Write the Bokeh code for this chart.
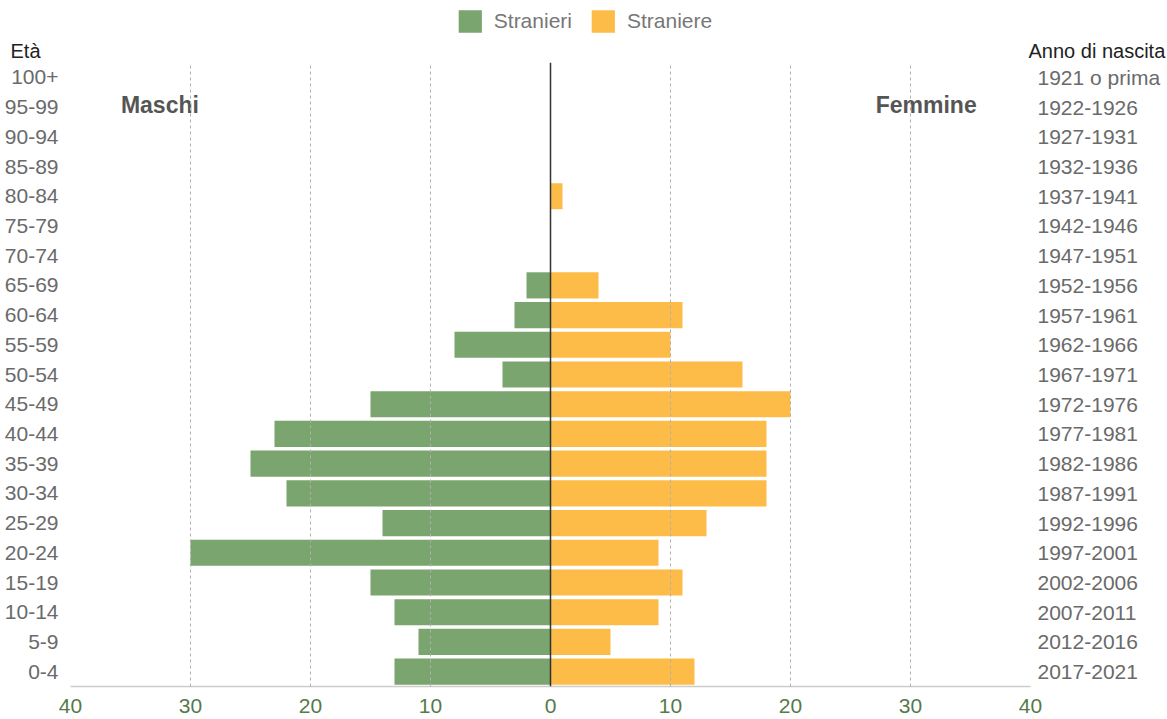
from bokeh.plotting import figure
from bokeh.models import (ColumnDataSource, FactorRange, CategoricalAxis, FixedTicker,
                          Span, Label, Legend, LegendItem, Range1d)
from bokeh.embed import file_html
from bokeh.resources import INLINE

# ---- data (bottom to top) ----
ages = ["0-4", "5-9", "10-14", "15-19", "20-24", "25-29", "30-34", "35-39", "40-44",
        "45-49", "50-54", "55-59", "60-64", "65-69", "70-74", "75-79", "80-84",
        "85-89", "90-94", "95-99", "100+"]
years = ["2017-2021", "2012-2016", "2007-2011", "2002-2006", "1997-2001", "1992-1996",
         "1987-1991", "1982-1986", "1977-1981", "1972-1976", "1967-1971", "1962-1966",
         "1957-1961", "1952-1956", "1947-1951", "1942-1946", "1937-1941", "1932-1936",
         "1927-1931", "1922-1926", "1921 o prima"]
stranieri = [13, 11, 13, 15, 30, 14, 22, 25, 23, 15, 4, 8, 3, 2, 0, 0, 0, 0, 0, 0, 0]
straniere = [12, 5, 9, 11, 9, 13, 18, 18, 18, 20, 16, 10, 11, 4, 0, 0, 1, 0, 0, 0, 0]
x_ticks = [-40, -30, -20, -10, 0, 10, 20, 30, 40]
series_names = ["Stranieri", "Straniere"]

GREEN = "#7ba56e"
ORANGE = "#fdbb47"
FONT = "Liberation Sans"
W, H_HEAD, H_MAIN = 1167, 60, 659

# ---------------- header (legend + axis titles), its own root ----------------
head = figure(width=W, height=H_HEAD, x_range=Range1d(0, W), y_range=Range1d(H_HEAD, 0),
              output_backend="svg", toolbar_location=None,
              x_axis_location=None, y_axis_location=None,
              min_border=0, min_border_left=0, min_border_right=0,
              min_border_top=0, min_border_bottom=0)
head.outline_line_color = None
head.grid.visible = False
# legend proxies (zero-size, never visible in the frame)
proxy = ColumnDataSource(dict(y=[0], l=[0], r=[0]))
hm = head.hbar(y="y", left="l", right="r", height=0, source=proxy,
               fill_color=GREEN, line_color=None)
hf = head.hbar(y="y", left="l", right="r", height=0, source=proxy,
               fill_color=ORANGE, line_color=None)
legend = Legend(items=[LegendItem(label=series_names[0], renderers=[hm]),
                       LegendItem(label=series_names[1], renderers=[hf])],
                location="top_center", orientation="horizontal",
                glyph_width=29, glyph_height=28, label_standoff=10, spacing=16,
                padding=0, margin=7, border_line_color=None,
                background_fill_alpha=0,
                label_text_font=FONT, label_text_font_size="21px",
                label_text_color="#777777")
head.add_layout(legend)
head.add_layout(Label(x=10, y=50, text="Età", text_font=FONT, text_font_size="20px",
                      text_color="#222222", text_baseline="middle", text_align="left"))
head.add_layout(Label(x=1028, y=50, text="Anno di nascita", text_font=FONT,
                      text_font_size="20px", text_color="#222222",
                      text_baseline="middle", text_align="left"))

# ---------------- main pyramid ----------------
src = ColumnDataSource(dict(age=ages, m=[-v for v in stranieri], f=straniere))

p = figure(width=W, height=H_MAIN, x_range=Range1d(-40, 40),
           y_range=FactorRange(factors=ages),
           output_backend="svg", toolbar_location=None,
           min_border_left=70, min_border_right=137, min_border_top=2,
           min_border_bottom=33)
p.outline_line_color = None
p.background_fill_color = "white"

rm = p.hbar(y="age", left="m", right=0, height=0.88, source=src,
            fill_color=GREEN, line_color=None)
rf = p.hbar(y="age", left=0, right="f", height=0.88, source=src,
            fill_color=ORANGE, line_color=None)

p.add_layout(Span(location=0, dimension="height", line_color="#333333", line_width=1.5))

# x axis
xa = p.xaxis[0]
xa.ticker = FixedTicker(ticks=x_ticks)
xa.major_label_overrides = {t: str(abs(t)) for t in x_ticks}
xa.major_label_text_font = FONT
xa.major_label_text_font_size = "21px"
xa.major_label_text_color = "#557a4b"
xa.major_label_standoff = 6
xa.major_tick_line_color = None
xa.minor_tick_line_color = None
xa.axis_line_color = "#cccccc"
xa.axis_line_width = 1.5

# left axis
ya = p.yaxis[0]
ya.major_label_text_font = FONT
ya.major_label_text_font_size = "21px"
ya.major_label_text_color = "#6a6a6a"
ya.major_label_standoff = 12
ya.major_tick_out = 0
ya.major_tick_in = 0
ya.major_tick_line_color = None
ya.axis_line_color = None

# right axis
p.extra_y_ranges = {"years": FactorRange(factors=years)}
ra = CategoricalAxis(y_range_name="years")
ra.major_label_text_font = FONT
ra.major_label_text_font_size = "21px"
ra.major_label_text_color = "#6a6a6a"
ra.major_label_standoff = 7
ra.major_tick_out = 0
ra.major_tick_in = 0
ra.major_tick_line_color = None
ra.axis_line_color = None
p.add_layout(ra, "right")

# grid (drawn over the bars, as in the reference)
p.ygrid.grid_line_color = None
p.xgrid.ticker = FixedTicker(ticks=[-40, -30, -20, -10, 10, 20, 30, 40])
p.xgrid.grid_line_color = "#b0b0b0"
p.xgrid.grid_line_dash = "3 3"
p.xgrid.grid_line_width = 1
p.xgrid.level = "overlay"

p.add_layout(Label(x=-35.8, y=19.57, text="Maschi", text_font=FONT, text_font_size="23px",
                   text_font_style="bold", text_color="#555555", text_baseline="middle"))
p.add_layout(Label(x=27.1, y=19.57, text="Femmine", text_font=FONT, text_font_size="23px",
                   text_font_style="bold", text_color="#555555", text_baseline="middle"))

open("out.html", "w").write(file_html([head, p], INLINE))
